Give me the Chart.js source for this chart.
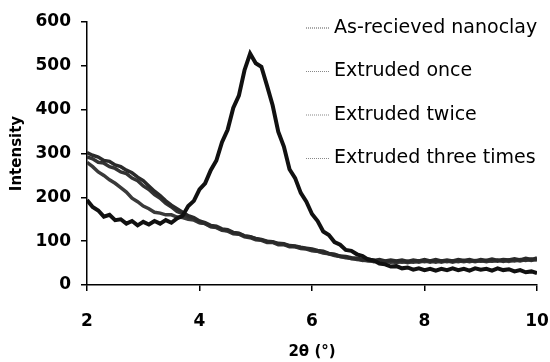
<!DOCTYPE html>
<html>
<head>
<meta charset="utf-8">
<script src="https://cdn.jsdelivr.net/npm/chart.js@4/dist/chart.umd.min.js"></script>
<style>
  html, body { margin: 0; padding: 0; background: #fff; }
  #wrap { width: 550px; height: 362px; }
</style>
</head>
<body>
<div id="wrap"><canvas id="xrd"></canvas></div>
<script>
// 2theta positions (deg), one reading every 0.1
const two_theta = [
  2.0, 2.1, 2.2, 2.3, 2.4, 2.5, 2.6, 2.7, 2.8, 2.9,
  3.0, 3.1, 3.2, 3.3, 3.4, 3.5, 3.6, 3.7, 3.8, 3.9,
  4.0, 4.1, 4.2, 4.3, 4.4, 4.5, 4.6, 4.7, 4.8, 4.9,
  5.0, 5.1, 5.2, 5.3, 5.4, 5.5, 5.6, 5.7, 5.8, 5.9,
  6.0, 6.1, 6.2, 6.3, 6.4, 6.5, 6.6, 6.7, 6.8, 6.9,
  7.0, 7.1, 7.2, 7.3, 7.4, 7.5, 7.6, 7.7, 7.8, 7.9,
  8.0, 8.1, 8.2, 8.3, 8.4, 8.5, 8.6, 8.7, 8.8, 8.9,
  9.0, 9.1, 9.2, 9.3, 9.4, 9.5, 9.6, 9.7, 9.8, 9.9,
  10.0
];

const as_received = [
  194, 178, 170, 156, 160, 148, 150, 140, 146, 136,
  144, 138, 146, 140, 148, 142, 152, 158, 180, 192,
  218, 232, 262, 284, 326, 354, 404, 432, 490, 528,
  506, 498, 455, 410, 350, 316, 264, 244, 210, 190,
  162, 146, 122, 114, 98, 92, 80, 78, 70, 66,
  58, 56, 49, 47, 42, 43, 38, 40, 35, 38,
  34, 37, 33, 37, 34, 38, 34, 37, 33, 38,
  35, 37, 33, 38, 34, 36, 31, 34, 29, 31,
  27
];

const extruded_once = [
  302, 296, 292, 284, 282, 274, 270, 262, 256, 246,
  238, 226, 214, 204, 192, 182, 174, 166, 158, 154,
  146, 142, 136, 134, 128, 126, 120, 118, 112, 110,
  106, 104, 100, 99, 95, 94, 90, 89, 86, 84,
  82, 79, 77, 72, 70, 66, 65, 62, 61, 58,
  59, 56, 58, 55, 57, 55, 57, 54, 57, 55,
  58, 55, 58, 55, 57, 55, 58, 56, 58, 55,
  58, 56, 59, 56, 58, 57, 60, 57, 61, 58,
  62
];

const extruded_twice = [
  292, 288, 280, 278, 270, 266, 258, 254, 244, 238,
  226, 218, 206, 198, 186, 178, 168, 163, 154, 151,
  143, 140, 133, 131, 125, 123, 117, 116, 110, 108,
  103, 102, 97, 97, 92, 92, 87, 87, 83, 82,
  78, 77, 73, 71, 67, 65, 62, 61, 58, 57,
  55, 55, 53, 54, 52, 54, 52, 54, 52, 55,
  53, 55, 52, 55, 53, 55, 53, 56, 53, 56,
  54, 56, 54, 57, 54, 57, 55, 58, 56, 59,
  57
];

const extruded_three = [
  280, 270, 258, 250, 240, 232, 222, 212, 198, 190,
  180, 174, 166, 164, 160, 160, 155, 154, 150, 148,
  142, 140, 134, 132, 126, 124, 119, 117, 112, 110,
  105, 103, 99, 98, 94, 93, 89, 88, 85, 83,
  80, 77, 75, 71, 69, 65, 64, 60, 60, 56,
  57, 53, 55, 52, 54, 51, 54, 51, 54, 52,
  55, 52, 55, 52, 55, 52, 55, 53, 56, 53,
  56, 53, 56, 54, 57, 54, 57, 55, 58, 56,
  59
];

const series_names = ["As-recieved nanoclay", "Extruded once", "Extruded twice", "Extruded three times"];
const x_ticks = [2, 4, 6, 8, 10];
const y_ticks = [0, 100, 200, 300, 400, 500, 600];

function pts(ys) {
  return two_theta.map((x, i) => ({ x: x, y: ys[i] }));
}

// legend sits inside the plot, top right, drawn by hand
const inPlotLegend = {
  id: "inPlotLegend",
  afterDraw(chart) {
    const ctx = chart.ctx;
    const right = chart.chartArea.right;
    ctx.save();
    ctx.font = "19px 'DejaVu Sans'";
    ctx.textBaseline = "middle";
    ctx.fillStyle = "#000";
    series_names.forEach((name, i) => {
      const y = 28 + i * 43.5;
      ctx.strokeStyle = i == 0 ? "#555" : "#888";
      ctx.lineWidth = 1;
      ctx.setLineDash([1, 1]);
      ctx.beginPath();
      ctx.moveTo(right - 231, y);
      ctx.lineTo(right - 207, y);
      ctx.stroke();
      ctx.setLineDash([]);
      ctx.fillText(name, right - 203, y);
    });
    ctx.restore();
  }
};

const line_colors = ["#111", "#2a2a2a", "#333", "#3a3a3a"];
const line_widths = [4, 3.5, 3.5, 3.5];

new Chart(document.getElementById("xrd"), {
  type: "line",
  data: {
    datasets: [as_received, extruded_once, extruded_twice, extruded_three].map((ys, i) => ({
      label: series_names[i],
      data: pts(ys),
      borderColor: line_colors[i],
      borderWidth: line_widths[i],
      pointRadius: 0,
      tension: 0,
      fill: false
    }))
  },
  options: {
    responsive: true,
    maintainAspectRatio: false,
    animation: false,
    layout: { padding: { left: 8, right: 13, top: 22, bottom: 0 } },
    plugins: { legend: { display: false }, tooltip: { enabled: false } },
    scales: {
      x: {
        type: "linear",
        min: 2, max: 10,
        afterBuildTicks: (s) => { s.ticks = x_ticks.map(v => ({ value: v })); },
        afterFit: (s) => { s.height = 77; s.paddingLeft = 0; s.paddingRight = 0; },
        border: { color: "#000", width: 1.5 },
        grid: { drawOnChartArea: false, drawTicks: true, tickLength: 6, color: "#000", lineWidth: 1.5 },
        ticks: { color: "#000", padding: 20, font: { family: "DejaVu Sans", size: 17, weight: "bold" } },
        title: { display: true, text: "2θ (°)", color: "#000", padding: { top: 0, bottom: 1 },
                 font: { family: "DejaVu Sans", size: 15, weight: "bold" } }
      },
      y: {
        min: 0, max: 600,
        afterBuildTicks: (s) => { s.ticks = y_ticks.map(v => ({ value: v })); },
        afterFit: (s) => { s.width = 79; },
        border: { color: "#000", width: 1.5 },
        grid: { drawOnChartArea: false, drawTicks: true, tickLength: 6, color: "#000", lineWidth: 1.5 },
        ticks: { color: "#000", padding: 10, font: { family: "DejaVu Sans", size: 17, weight: "bold" } },
        title: { display: true, text: "Intensity", color: "#000", padding: 0,
                 font: { family: "DejaVu Sans", size: 15, weight: "bold" } }
      }
    }
  },
  plugins: [inPlotLegend]
});
</script>
</body>
</html>
